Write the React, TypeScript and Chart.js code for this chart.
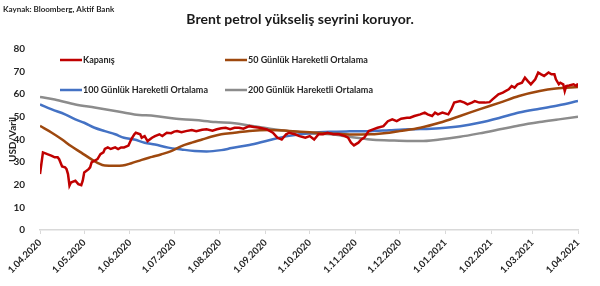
import React, { useEffect, useRef } from "react";
import { Chart, registerables } from "chart.js";

Chart.register(...registerables);

// Day offsets from 1.04.2020 for month ticks
const monthDays = [0, 30, 61, 91, 122, 153, 183, 214, 244, 275, 306, 334, 365];
const monthLabels = [
  "1.04.2020", "1.05.2020", "1.06.2020", "1.07.2020", "1.08.2020", "1.09.2020",
  "1.10.2020", "1.11.2020", "1.12.2020", "1.01.2021", "1.02.2021", "1.03.2021", "1.04.2021",
];

const seriesLabels = [
  "Kapanış",
  "50 Günlük Hareketli Ortalama",
  "100 Günlük Hareketli Ortalama",
  "200 Günlük Hareketli Ortalama",
];

// Closing price (day offset, USD/barrel)
const closeDays = [
  0, 2, 5, 8, 10, 12, 13, 15, 17, 18, 19, 20, 21, 24, 26, 28, 29, 30, 33, 34, 35, 37, 39, 41, 43, 44, 46, 48,
  51, 53, 55, 57, 60, 62, 64, 65, 68, 69, 71, 73, 76, 78, 81, 83, 86, 89, 91, 93, 96, 99, 103, 106, 110, 113,
  117, 120, 123, 126, 129, 132, 135, 138, 142, 145, 149, 154, 158, 161, 164, 167, 169, 173, 176, 180, 183, 186,
  189, 192, 195, 199, 203, 207, 209, 211, 213, 216, 218, 220, 223, 226, 229, 233, 236, 239, 242, 245, 249, 251,
  254, 258, 261, 263, 266, 268, 270, 273, 277, 279, 281, 285, 288, 290, 293, 295, 298, 302, 305, 307, 311, 314,
  318, 320, 322, 324, 327, 329, 331, 333, 336, 338, 340, 342, 345, 347, 349, 350, 352, 353, 355, 356, 357, 359,
  362, 364, 365,
];
const closeValues = [
  24.7, 34.3, 33.5, 32.8, 32.1, 32.1, 31.3, 28.1, 27.7, 26.9, 24.7, 19.6, 21.0, 21.8, 20.3, 19.8, 21.8, 25.4,
  26.9, 27.7, 29.9, 30.6, 31.3, 33.5, 34.3, 35.8, 36.5, 35.8, 36.5, 35.8, 36.5, 36.5, 37.3, 40.2, 42.3, 43.0,
  42.3, 40.8, 41.5, 39.3, 40.8, 41.5, 42.3, 41.5, 43.0, 42.8, 43.5, 43.7, 43.2, 43.7, 44.2, 43.7, 44.3, 44.5,
  43.9, 44.5, 45.0, 45.2, 44.6, 45.2, 45.2, 44.8, 45.9, 45.5, 45.2, 44.5, 43.0, 40.8, 40.0, 42.3, 43.0, 42.3,
  41.5, 40.8, 41.5, 40.0, 42.3, 42.3, 43.0, 42.3, 42.3, 41.5, 40.8, 38.6, 37.4, 38.6, 40.0, 40.8, 43.7, 44.5,
  45.2, 45.9, 48.1, 48.9, 48.1, 49.2, 49.6, 49.6, 50.4, 51.1, 51.9, 51.1, 50.4, 51.9, 51.1, 51.9, 51.1, 53.3,
  56.3, 57.0, 56.3, 55.5, 56.3, 57.0, 56.3, 56.3, 56.5, 57.7, 60.0, 60.7, 62.2, 63.6, 62.9, 64.4, 65.1, 67.3,
  65.8, 64.4, 66.6, 69.6, 68.8, 68.1, 69.6, 68.8, 68.8, 66.6, 64.4, 65.1, 64.4, 61.4, 63.6, 63.9, 64.4, 63.6,
  64.8,
];

// 50-day moving average
const ma50Days = [
  0, 8, 15, 21, 28, 35, 39, 44, 51, 56, 62, 69, 76, 82, 89, 96, 103, 110, 116, 123, 132, 142, 156, 169, 183,
  197, 210, 224, 237, 244, 258, 271, 285, 298, 312, 325, 339, 350, 365,
];
const ma50Values = [
  46.0, 43.0, 40.0, 37.1, 34.2, 31.2, 29.7, 28.5, 28.4, 28.5, 29.5, 31.0, 32.3, 33.4, 34.9, 37.1, 38.6, 40.0,
  41.2, 42.3, 43.0, 43.8, 44.2, 43.8, 43.2, 42.7, 42.2, 42.3, 43.0, 43.7, 45.2, 47.4, 50.4, 53.3, 56.3, 59.2,
  61.4, 62.5, 63.2,
];

// 100-day moving average
const ma100Days = [
  0, 8, 17, 24, 30, 37, 44, 51, 57, 64, 71, 78, 87, 96, 105, 113, 123, 130, 142, 156, 169, 183, 197, 210, 224,
  237, 251, 258, 271, 285, 298, 312, 325, 339, 352, 365,
];
const ma100Values = [
  55.5, 53.3, 51.1, 48.9, 47.4, 45.2, 43.7, 42.3, 40.8, 40.0, 38.6, 37.8, 36.4, 35.6, 34.9, 34.7, 35.3, 36.2,
  37.6, 39.8, 41.6, 42.8, 43.4, 43.6, 43.7, 44.1, 44.5, 44.6, 45.0, 45.9, 47.4, 49.6, 51.9, 53.6, 55.1, 57.0,
];

// 200-day moving average
const ma200Days = [
  0, 10, 24, 37, 51, 64, 78, 91, 105, 119, 132, 142, 156, 169, 183, 197, 210, 224, 237, 251, 258, 271, 285,
  298, 312, 325, 339, 352, 365,
];
const ma200Values = [
  58.8, 57.7, 55.5, 54.1, 52.6, 51.1, 50.4, 49.3, 48.6, 47.7, 47.2, 46.2, 44.8, 43.7, 42.7, 42.3, 41.2, 40.0,
  39.6, 39.3, 39.3, 40.0, 41.2, 42.7, 44.5, 46.2, 47.7, 48.9, 50.1,
];

const colors = ["#c00000", "#9e480e", "#4472c4", "#8c8c8c"];
const FONT = "Lato, 'Open Sans', sans-serif";

const toPoints = (xs: number[], ys: number[]) => xs.map((x, i) => ({ x, y: ys[i] }));

const decorPlugin = {
  id: "decor",
  afterDraw(chart: any) {
    const ctx = chart.ctx;
    ctx.save();
    ctx.fillStyle = "#262626";
    ctx.textBaseline = "middle";
    ctx.font = `bold 8px ${FONT}`;
    ctx.textAlign = "left";
    ctx.fillText("Kaynak: Bloomberg, Aktif Bank", 3, 9);
    ctx.font = `bold 14px ${FONT}`;
    ctx.textAlign = "center";
    ctx.fillStyle = "#1a1a1a";
    ctx.fillText("Brent petrol yükseliş seyrini koruyor.", 300, 19);

    const pos = [
      [60, 60],
      [225, 60],
      [60, 90],
      [225, 90],
    ];
    ctx.font = `bold 9px ${FONT}`;
    ctx.textAlign = "left";
    chart.data.datasets.forEach((ds: any, i: number) => {
      const [x, y] = pos[i];
      ctx.strokeStyle = ds.borderColor;
      ctx.lineWidth = 2.5;
      ctx.beginPath();
      ctx.moveTo(x, y);
      ctx.lineTo(x + 22, y);
      ctx.stroke();
      ctx.fillStyle = "#262626";
      ctx.fillText(ds.label, x + 23, y + 0.5);
    });
    ctx.restore();
  },
};

export default function App() {
  const ref = useRef<HTMLCanvasElement>(null);
  useEffect(() => {
    if (!ref.current) return;
    const seriesPts = [
      toPoints(closeDays, closeValues),
      toPoints(ma50Days, ma50Values),
      toPoints(ma100Days, ma100Values),
      toPoints(ma200Days, ma200Values),
    ];
    const chart = new Chart(ref.current, {
      type: "line",
      data: {
        datasets: seriesPts.map((pts, i) => ({
          label: seriesLabels[i],
          data: pts,
          borderColor: colors[i],
          backgroundColor: colors[i],
          borderWidth: 2.5,
          pointRadius: 0,
          tension: i === 0 ? 0 : 0.4,
          cubicInterpolationMode: i === 0 ? "default" : "monotone",
        })) as any,
      },
      options: {
        responsive: false,
        animation: false,
        layout: { padding: { top: 49, right: 22, left: 7, bottom: 0 } },
        plugins: {
          legend: { display: false },
          tooltip: { enabled: false },
          title: { display: false },
        },
        scales: {
          x: {
            type: "linear",
            min: 0,
            max: 365,
            afterBuildTicks: (scale: any) => {
              scale.ticks = monthDays.map((v) => ({ value: v }));
            },
            afterFit: (scale: any) => {
              scale.height = 56;
            },
            ticks: {
              autoSkip: false,
              minRotation: 45,
              maxRotation: 45,
              padding: 3,
              color: "#262626",
              font: { family: FONT, size: 9.5, weight: "bold" },
              callback: (v: any) => {
                const idx = monthDays.indexOf(Number(v));
                return idx >= 0 ? monthLabels[idx] : "";
              },
            },
            grid: {
              drawOnChartArea: false,
              drawTicks: true,
              tickLength: 4,
              color: "#d9d9d9",
              lineWidth: 1,
            },
            border: { display: true, color: "#d9d9d9", width: 1.5 },
          },
          y: {
            min: 0,
            max: 80,
            afterFit: (scale: any) => {
              scale.width = 33;
            },
            ticks: {
              stepSize: 10,
              padding: 7,
              color: "#262626",
              font: { family: FONT, size: 10, weight: "bold" },
            },
            grid: { display: false },
            border: { display: false },
            title: {
              display: true,
              text: "USD/Varil",
              color: "#262626",
              font: { family: FONT, size: 10, weight: "bold" },
              padding: { top: 0, bottom: 2 },
            },
          },
        },
      },
      plugins: [decorPlugin],
    });
    return () => chart.destroy();
  }, []);

  return (
    <div style={{ position: "absolute", left: 0, top: 0, width: 600, height: 286, background: "#fff" }}>
      <canvas ref={ref} width={600} height={286} />
    </div>
  );
}
